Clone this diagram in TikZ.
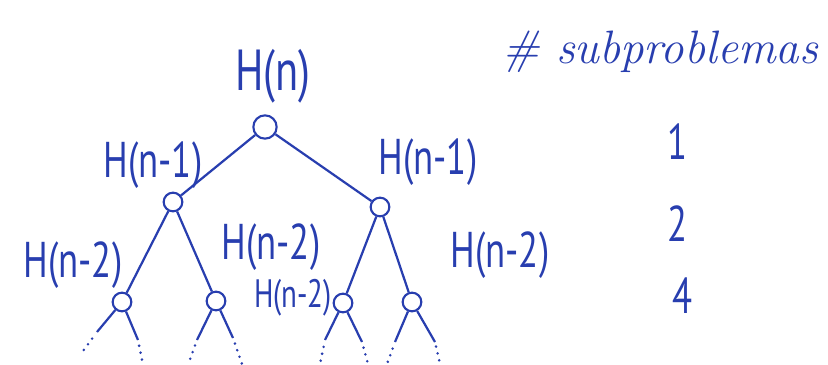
\documentclass[tikz,border=0pt]{standalone}
\usepackage{fontspec}
\usepackage{graphicx}
\newfontfamily\handfont{PT Sans}
\definecolor{inkblue}{RGB}{40,62,175}
\newcommand{\tallink}[1]{\scalebox{0.95}[1.3]{#1}}

\begin{document}
\begin{tikzpicture}[x=0.03cm,y=-0.03cm,inkblue,line width=1.9pt,
  vertex/.style={circle,draw,line width=1.8pt,inner sep=0pt,minimum size=0.56cm},
  lbl/.style={font=\handfont\fontsize{33}{36}\selectfont,inner sep=0pt},
  dots/.style={line width=2.4pt,line cap=round,dash pattern=on 0pt off 6pt}]
\useasboundingbox (0,0) rectangle (828,365);
% tree
\node[vertex,minimum size=0.7cm] (r) at (265,127) {};
\node[vertex] (a) at (173,202) {};
\node[vertex] (b) at (380,207) {};
\node[vertex] (aa) at (122,302) {};
\node[vertex] (ab) at (216,301) {};
\node[vertex] (ba) at (343,303) {};
\node[vertex] (bb) at (412,302) {};
\draw (r) -- (a);
\draw (r) -- (b);
\draw (a) -- (aa);
\draw (a) -- (ab);
\draw (b) -- (ba);
\draw (b) -- (bb);
% cut branches
\coordinate (aa1) at (97,332);  \coordinate (aa1e) at (80,355);
\coordinate (aa2) at (138,340); \coordinate (aa2e) at (143,365);
\coordinate (ab1) at (197,340); \coordinate (ab1e) at (188,365);
\coordinate (ab2) at (233,338); \coordinate (ab2e) at (242,364);
\coordinate (ba1) at (325,340); \coordinate (ba1e) at (320,364);
\coordinate (ba2) at (362,342); \coordinate (ba2e) at (368,364);
\coordinate (bb1) at (395,342); \coordinate (bb1e) at (387,364);
\coordinate (bb2) at (435,342); \coordinate (bb2e) at (440,364);
\draw (aa) -- (aa1); \draw[dots,shorten <=7pt] (aa1) -- (aa1e);
\draw (aa) -- (aa2); \draw[dots,shorten <=5pt] (aa2) -- (aa2e);
\draw (ab) -- (ab1); \draw[dots,shorten <=5pt] (ab1) -- (ab1e);
\draw (ab) -- (ab2); \draw[dots,shorten <=5pt] (ab2) -- (ab2e);
\draw (ba) -- (ba1); \draw[dots,shorten <=6pt] (ba1) -- (ba1e);
\draw (ba) -- (ba2); \draw[dots,shorten <=5pt] (ba2) -- (ba2e);
\draw (bb) -- (bb1); \draw[dots,shorten <=6pt] (bb1) -- (bb1e);
\draw (bb) -- (bb2); \draw[dots,shorten <=4pt] (bb2) -- (bb2e);
% labels
\node[lbl,font=\handfont\fontsize{38}{40}\selectfont] (tn) at (273,76) {\tallink{H(n)}};
\node[lbl] (ta) at (153,165) {\tallink{H(n-1)}};
\node[lbl] (tb) at (428,162) {\tallink{H(n-1)}};
\node[lbl] (taa) at (73,265) {\tallink{H(n-2)}};
\node[lbl] (tab) at (271,247) {\tallink{H(n-2)}};
\node[lbl,font=\handfont\fontsize{26}{28}\selectfont] (tba) at (293,298) {\tallink{H(n-2)}};
\node[lbl] (tbb) at (500,255) {\tallink{H(n-2)}};
% count column
\node[font=\fontsize{40}{42}\selectfont\itshape,inner sep=0pt] (sub) at (660,52) {\# subproblemas};
\node[lbl] (c1) at (678,142) {\tallink{1}};
\node[lbl] (c2) at (678,224) {\tallink{2}};
\node[lbl] (c4) at (683,296) {\tallink{4}};
\end{tikzpicture}
\end{document}
